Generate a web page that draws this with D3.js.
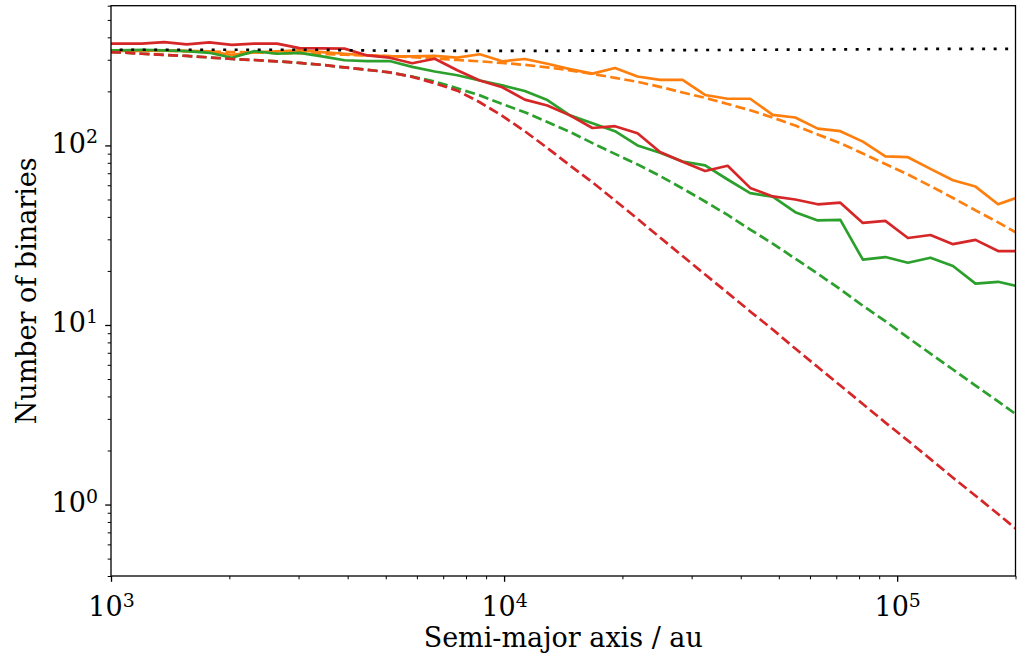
<!DOCTYPE html>
<html>
<head>
<meta charset="utf-8">
<script src="https://cdn.jsdelivr.net/npm/d3@7"></script>
<style>
  body { margin: 0; background: #fff; }
  svg text { font-family: "DejaVu Serif", serif; fill: #000; }
</style>
</head>
<body>
<svg id="chart" width="1019" height="657"></svg>
<script>
// Bin centres of the semi-major axis histogram (au)
const semiMajorAxis = [919.5, 1049, 1197, 1366, 1559, 1779, 2030, 2316, 2643, 3017,
  3442, 3928, 4483, 5115, 5837, 6661, 7601, 8673, 9895, 11290,
  12885, 14704, 16780, 19148, 21849, 24930, 28450, 32466, 37046, 42276,
  48242, 55047, 62806, 71680, 81792, 93325, 106509, 121534, 138676, 158233,
  180593, 206063];

// Initial population per bin
const initialCount = [341, 341, 341, 341, 341, 341, 341, 341, 341, 341,
  341, 339, 338, 337, 336, 336, 336, 336, 336, 336,
  336, 337, 337, 338, 338, 339, 339, 340, 340, 341,
  341, 342, 342, 343, 343, 344, 344, 345, 345, 345,
  345, 345];

// Surviving binaries (simulation) and analytic expectation, three environments
const simOrange = [338, 336, 336, 338, 336, 334, 319, 330, 334, 338,
  331, 324, 317, 313, 313, 315, 308, 322, 294, 303,
  285, 266, 251, 270, 242, 232, 232, 191, 182, 182,
  148, 143, 124, 120, 105, 87, 86, 74, 64, 59,
  47, 52];
const modelOrange = [339, 338, 337, 336, 334, 333, 331, 330, 327, 326,
  323, 320, 317, 314, 310, 305, 299, 294, 288, 281,
  272, 262, 250, 238, 226, 212, 197, 184, 170, 157,
  143, 129, 115, 103, 90.2, 78.8, 68.9, 59.4, 51.0, 43.5,
  37.3, 31.7];

const simGreen = [338, 338, 341, 338, 335, 328, 308, 335, 324, 328,
  313, 298, 295, 295, 274, 258, 246, 230, 216, 201,
  179, 147, 133, 120, 100, 91, 81.4, 77.4, 64.6, 54.2,
  51.8, 42.5, 38.2, 38.5, 23.1, 23.9, 22.2, 23.7, 21.3, 17.0,
  17.4, 16.3];
const modelGreen = [332, 330, 324, 319, 315, 309, 303, 299, 294, 288,
  281, 272, 264, 255, 242, 227, 208, 190, 170, 153,
  135, 119, 103, 89.7, 78.4, 67.6, 57.6, 48.7, 41.0, 34.0,
  28.4, 23.4, 19.3, 15.8, 12.8, 10.5, 8.51, 6.93, 5.65, 4.60,
  3.75, 3.05];

const simRed = [369, 369, 369, 376, 365, 375, 363, 369, 369, 348,
  347, 346, 317, 308, 287, 304, 262, 230, 211, 180,
  167, 147, 125, 128, 117, 92, 81, 72, 77, 58,
  52, 50, 47, 48, 37, 38, 30.5, 31.7, 28.2, 29.8,
  25.8, 25.8];
const modelRed = [332, 330, 324, 319, 315, 309, 303, 299, 294, 288,
  281, 272, 264, 255, 241, 222, 202, 174, 146, 120,
  96.8, 77.4, 62.3, 49.4, 39.0, 30.7, 24.2, 19.1, 15.1, 11.9,
  9.44, 7.39, 5.83, 4.60, 3.63, 2.86, 2.27, 1.79, 1.41, 1.12,
  0.885, 0.698];

// Axis tick labels (powers of ten)
const xTickExponents = [3, 4, 5];
const yTickExponents = [0, 1, 2];

const svg = d3.select("#chart");
const plot = { left: 111, right: 1015.5, top: 5.7, bottom: 576 };
const FS = 27;

const x = d3.scaleLog().domain([1e3, 2e5]).range([plot.left, plot.right]);
const y = d3.scaleLog().domain([0.4, 600]).range([plot.bottom, plot.top]);

svg.append("defs").append("clipPath").attr("id", "plot-clip")
  .append("rect")
  .attr("x", plot.left).attr("y", plot.top)
  .attr("width", plot.right - plot.left).attr("height", plot.bottom - plot.top);

const DASHED = "10 4.3";
const layers = [
  { values: simOrange,    color: "#ff7f0e", dash: null },
  { values: modelOrange,  color: "#ff7f0e", dash: DASHED },
  { values: simGreen,     color: "#2ca02c", dash: null },
  { values: modelGreen,   color: "#2ca02c", dash: DASHED },
  { values: simRed,       color: "#d62728", dash: null },
  { values: modelRed,     color: "#d62728", dash: DASHED },
  { values: initialCount, color: "#000000", dash: "3 8.5" }
];

const line = d3.line()
  .x((d, i) => x(semiMajorAxis[i]))
  .y(d => y(d));

const g = svg.append("g").attr("clip-path", "url(#plot-clip)");
layers.forEach(l => {
  g.append("path")
    .datum(l.values)
    .attr("d", line)
    .attr("fill", "none")
    .attr("stroke", l.color)
    .attr("stroke-width", 2.7)
    .attr("stroke-dasharray", l.dash)
    .attr("stroke-linejoin", "round")
    .attr("stroke-linecap", "butt");
});

// Frame
svg.append("rect")
  .attr("x", plot.left).attr("y", plot.top)
  .attr("width", plot.right - plot.left).attr("height", plot.bottom - plot.top)
  .attr("fill", "none").attr("stroke", "#000").attr("stroke-width", 1.3);

function isPow10(v) { return Math.abs(Math.log10(v) - Math.round(Math.log10(v))) < 1e-9; }

function powerLabel(textSel, exp) {
  textSel.text(null);
  textSel.append("tspan").text("10");
  textSel.append("tspan").attr("font-size", "0.7em").attr("dy", "-0.5em").text(exp);
}

// X axis
const xMajor = xTickExponents.map(e => Math.pow(10, e));
const xMinor = x.ticks().filter(v => !isPow10(v));
const xAxisMinor = d3.axisBottom(x).tickValues(xMinor).tickSize(3.3).tickFormat("");
const xAxisMajor = d3.axisBottom(x).tickValues(xMajor).tickSize(5.8).tickFormat("");
const gxMinor = svg.append("g").attr("transform", `translate(0,${plot.bottom})`).call(xAxisMinor);
const gxMajor = svg.append("g").attr("transform", `translate(0,${plot.bottom})`).call(xAxisMajor);
[gxMinor, gxMajor].forEach(gx => {
  gx.select(".domain").remove();
  gx.selectAll("line").attr("stroke", "#000");
});
gxMinor.selectAll("line").attr("stroke-width", 1);
gxMajor.selectAll("line").attr("stroke-width", 1.3);
gxMajor.selectAll(".tick text").remove();
gxMajor.selectAll(".tick").each(function (d, i) {
  const t = d3.select(this).append("text")
    .attr("y", 40).attr("text-anchor", "middle")
    .attr("font-size", FS).attr("fill", "#000");
  powerLabel(t, xTickExponents[i]);
});

// Y axis
const yMajor = yTickExponents.map(e => Math.pow(10, e));
const yMinor = y.ticks().filter(v => !isPow10(v));
const yAxisMinor = d3.axisLeft(y).tickValues(yMinor).tickSize(3.3).tickFormat("");
const yAxisMajor = d3.axisLeft(y).tickValues(yMajor).tickSize(5.8).tickFormat("");
const gyMinor = svg.append("g").attr("transform", `translate(${plot.left},0)`).call(yAxisMinor);
const gyMajor = svg.append("g").attr("transform", `translate(${plot.left},0)`).call(yAxisMajor);
[gyMinor, gyMajor].forEach(gy => {
  gy.select(".domain").remove();
  gy.selectAll("line").attr("stroke", "#000");
});
gyMinor.selectAll("line").attr("stroke-width", 1);
gyMajor.selectAll("line").attr("stroke-width", 1.3);
gyMajor.selectAll(".tick text").remove();
gyMajor.selectAll(".tick").each(function (d, i) {
  const t = d3.select(this).append("text")
    .attr("x", -13).attr("y", 7).attr("text-anchor", "end")
    .attr("font-size", FS).attr("fill", "#000");
  powerLabel(t, yTickExponents[i]);
});

// Axis titles
svg.append("text")
  .attr("x", (plot.left + plot.right) / 2).attr("y", 647)
  .attr("text-anchor", "middle").attr("font-size", FS)
  .text("Semi-major axis / au");

svg.append("text")
  .attr("transform", `translate(36,${(plot.top + plot.bottom) / 2}) rotate(-90)`)
  .attr("text-anchor", "middle").attr("font-size", FS)
  .text("Number of binaries");
</script>
</body>
</html>
